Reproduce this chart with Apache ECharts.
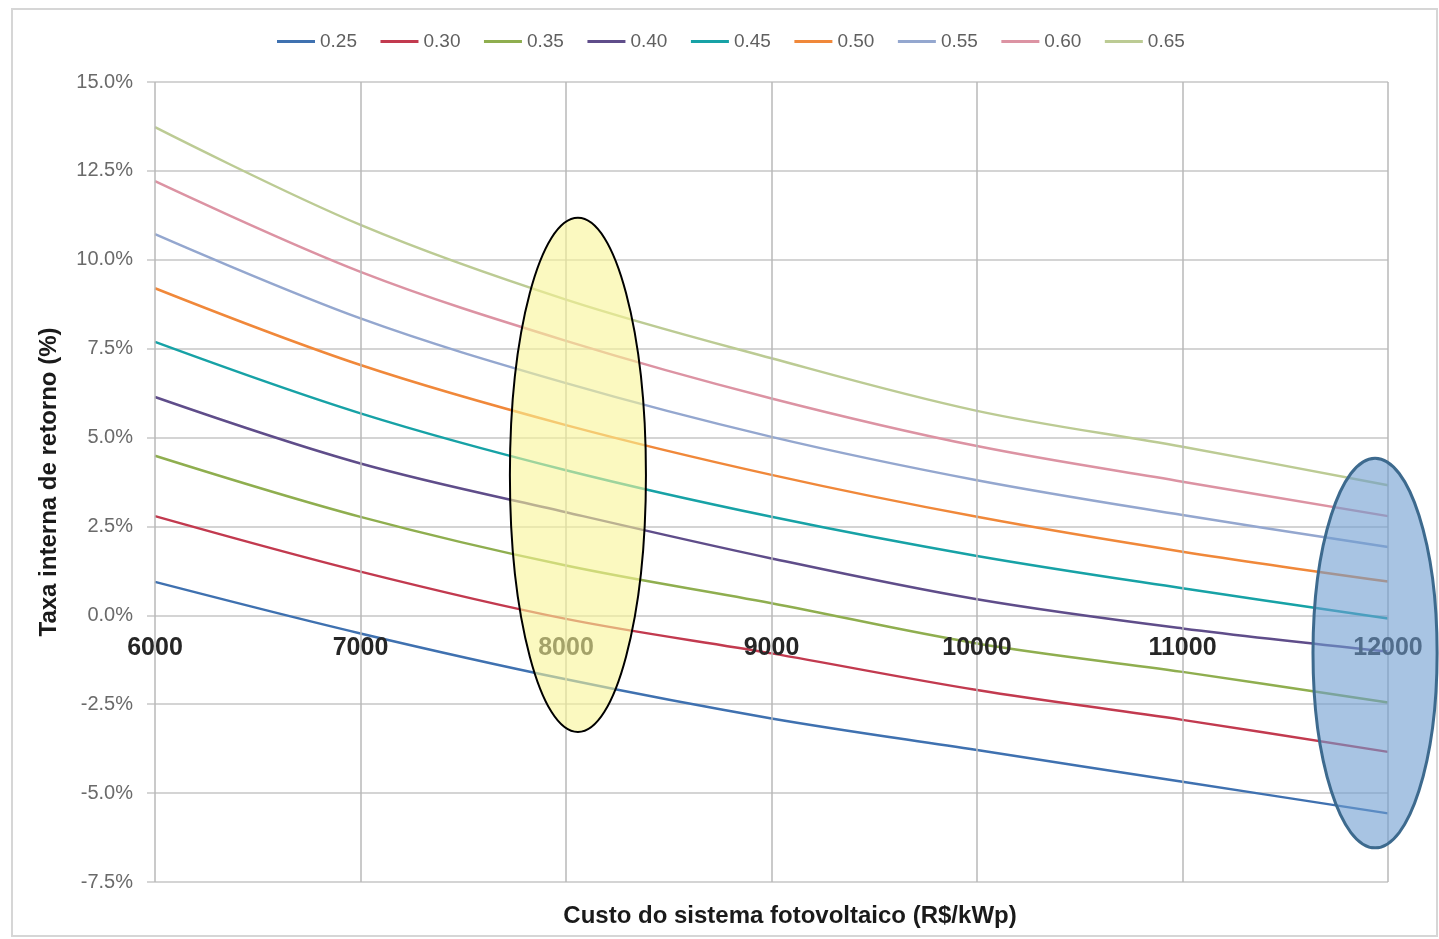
<!DOCTYPE html>
<html>
<head>
<meta charset="utf-8">
<script src="https://cdn.jsdelivr.net/npm/echarts@6/dist/echarts.min.js"></script>
<style>
html,body{margin:0;padding:0;background:#fff;}
#chart{width:1439px;height:939px;}
</style>
</head>
<body>
<div id="chart"></div>
<script>
// ---- data ----
const costs = [6000, 7000, 8000, 9000, 10000, 11000, 12000];
const seriesNames = ['0.25', '0.30', '0.35', '0.40', '0.45', '0.50', '0.55', '0.60', '0.65'];
const irr025 = [0.94, -0.51, -1.80, -2.90, -3.79, -4.68, -5.57];
const irr030 = [2.79, 1.23, -0.10, -1.07, -2.10, -2.94, -3.84];
const irr035 = [4.49, 2.77, 1.40, 0.34, -0.79, -1.59, -2.45];
const irr040 = [6.14, 4.27, 2.90, 1.60, 0.45, -0.37, -1.02];
const irr045 = [7.69, 5.68, 4.08, 2.77, 1.67, 0.76, -0.09];
const irr050 = [9.20, 7.04, 5.35, 3.95, 2.77, 1.79, 0.95];
const irr055 = [10.72, 8.35, 6.53, 5.02, 3.80, 2.82, 1.92];
const irr060 = [12.21, 9.66, 7.72, 6.10, 4.76, 3.76, 2.79];
const irr065 = [13.73, 10.98, 8.88, 7.23, 5.75, 4.74, 3.66];
const allSeries = [irr025, irr030, irr035, irr040, irr045, irr050, irr055, irr060, irr065];
const yTicks = { min: -7.5, max: 15, interval: 2.5 };
const xTicks = { min: 6000, max: 12000, interval: 1000 };
const xTitle = 'Custo do sistema fotovoltaico (R$/kWp)';
const yTitle = 'Taxa interna de retorno (%)';
// annotation ellipses in data units: [centerX, centerY, radiusX, radiusY]
const highlight8000 = [8058, 3.95, 331, 7.23];
const highlight12000 = [11937, -1.06, 302, 5.48];

const colors = ['#3f71b0', '#c23a4f', '#8fae4f', '#5f4d8a', '#17a2a6', '#f0883a', '#94a7cf', '#dc93a3', '#bccb94'];

const chart = echarts.init(document.getElementById('chart'));
const FONT = '"Liberation Sans", Arial, sans-serif';

const option = {
  animation: false,
  backgroundColor: '#fff',
  color: colors,
  title: {
    text: xTitle,
    left: 785, top: 899, textAlign: 'center',
    textStyle: { fontFamily: FONT, fontSize: 24, fontWeight: 'bold', color: '#1a1a1a' }
  },
  legend: {
    left: 277, top: 32,
    icon: 'rect',
    itemWidth: 38, itemHeight: 3, itemGap: 23.5,
    padding: 0,
    textStyle: { fontFamily: FONT, fontSize: 19, color: '#606060' },
    data: seriesNames
  },
  grid: { left: 155, right: 51, top: 82, bottom: 57, containLabel: false },
  xAxis: {
    type: 'value', min: xTicks.min, max: xTicks.max, interval: xTicks.interval,
    position: 'bottom', z: 5,
    axisLine: { show: false, onZero: false },
    axisTick: { show: false },
    axisLabel: { fontFamily: FONT, fontSize: 25, fontWeight: 'bold', color: '#262626', margin: 20,
      formatter: v => String(v) },
    splitLine: { show: true, lineStyle: { color: '#b8b8b8', width: 1.5 } }
  },
  yAxis: {
    type: 'value', min: yTicks.min, max: yTicks.max, interval: yTicks.interval,
    axisLine: { show: false },
    axisTick: { show: true, length: 8, lineStyle: { color: '#c8c8c8', width: 1.5 } },
    axisLabel: {
      fontFamily: FONT, fontSize: 20, color: '#6a6a6a', margin: 22,
      formatter: v => v.toFixed(1) + '%'
    },
    splitLine: { show: true, lineStyle: { color: '#d4d4d4', width: 2 } },
    name: yTitle, nameLocation: 'middle', nameGap: 94, nameRotate: 90,
    nameTextStyle: { fontFamily: FONT, fontSize: 24, fontWeight: 'bold', color: '#1a1a1a' }
  },
  series: allSeries.map((vals, i) => ({
    name: seriesNames[i],
    type: 'line',
    smooth: 0.35,
    symbol: 'none',
    lineStyle: { width: 2.5, color: colors[i] },
    itemStyle: { color: colors[i] },
    data: costs.map((c, j) => [c, vals[j]])
  }))
};
chart.setOption(option);

// place the x-axis labels on the 0 % line (as in the reference)
const yZero = chart.convertToPixel({ yAxisIndex: 0 }, 0);
const yBottom = chart.convertToPixel({ yAxisIndex: 0 }, yTicks.min);
chart.setOption({ xAxis: { offset: -(yBottom - yZero) } });

function ellipseFrom(spec, style) {
  const c = chart.convertToPixel({ xAxisIndex: 0, yAxisIndex: 0 }, [spec[0], spec[1]]);
  const e = chart.convertToPixel({ xAxisIndex: 0, yAxisIndex: 0 }, [spec[0] + spec[2], spec[1] + spec[3]]);
  return {
    type: 'ellipse', z: 100,
    shape: { cx: c[0], cy: c[1], rx: Math.abs(e[0] - c[0]), ry: Math.abs(c[1] - e[1]) },
    style: style
  };
}

chart.setOption({
  graphic: [
    { type: 'rect', z: -1, shape: { x: 12, y: 9, width: 1425, height: 927 },
      style: { fill: 'none', stroke: '#d6d6d6', lineWidth: 2 } },
    ellipseFrom(highlight8000, { fill: 'rgba(248,245,150,0.6)', stroke: '#000', lineWidth: 2 }),
    ellipseFrom(highlight12000, { fill: 'rgba(110,157,208,0.6)', stroke: '#3d6a8e', lineWidth: 3 })
  ]
});
</script>
</body>
</html>
